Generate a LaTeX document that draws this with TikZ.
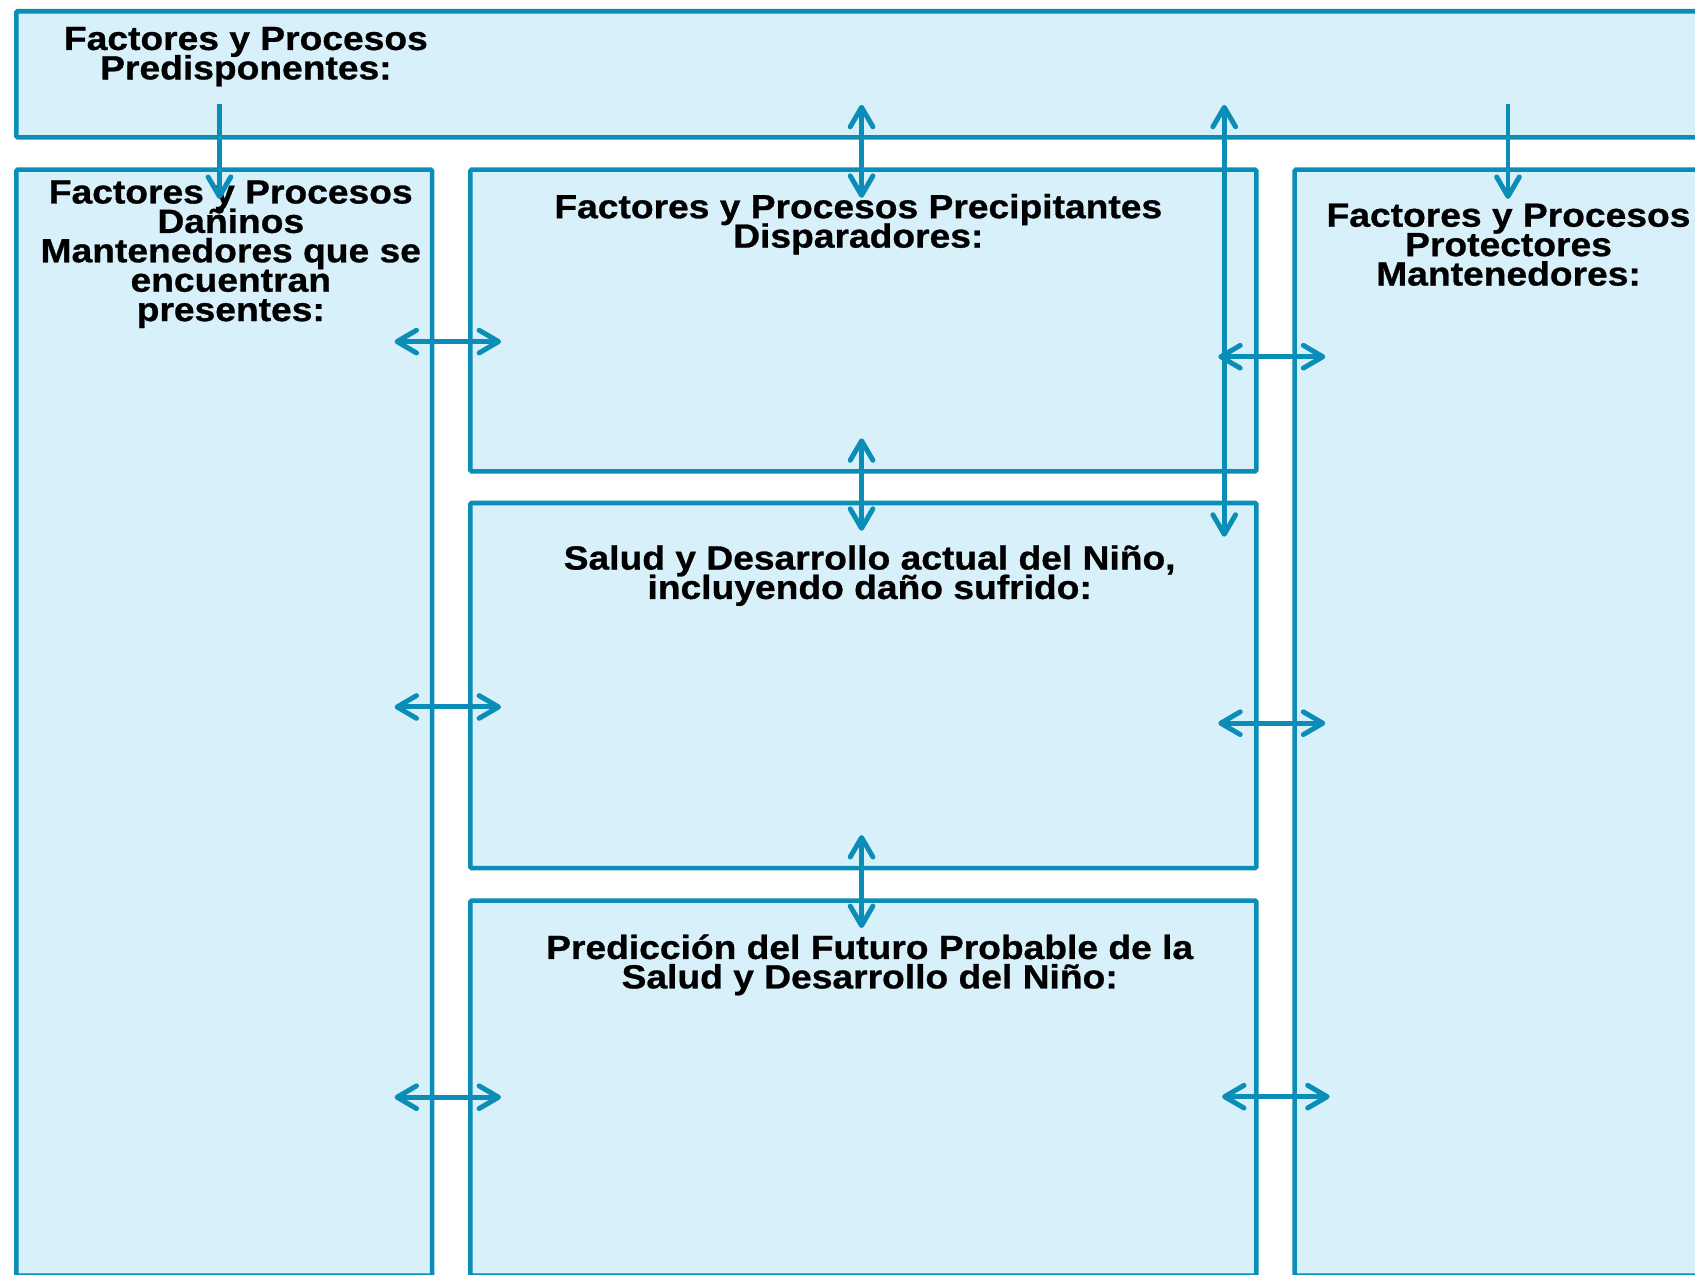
\documentclass[tikz,border=0pt]{standalone}
\usepackage{fontspec}
\newfontfamily\lblfont{Liberation Sans}[FakeStretch=1.11,FakeBold=0.8]
\newcommand\lblsetup{\lblfont\bfseries\fontsize{15.5pt}{13.6pt}\selectfont\lineskiplimit=-100pt\relax\lineskip=0pt\relax}
\usetikzlibrary{arrows.meta}
\definecolor{edge}{HTML}{0A8DB6}
\definecolor{panel}{HTML}{D7F0FA}
\tikzset{
  panelbox/.style={draw=edge, fill=panel, line width=2.1pt, rectangle, rounded corners=0.6pt, inner sep=0pt, anchor=north west},
  lbl/.style={inner sep=0pt, anchor=north, align=center, font=\lblsetup},
  link/.style={draw=edge, line width=2.3pt, line cap=butt},
  onehead/.style={link, -{Straight Barb[length=9pt,width=10.5pt,round]}},
  twohead/.style={link, {Straight Barb[length=9pt,width=10.5pt,round]}-{Straight Barb[length=9pt,width=10.5pt,round]}}
}
\begin{document}
\begin{tikzpicture}[x=0.5pt,y=-0.5pt]
\useasboundingbox (0,0) rectangle (1568,1179.47);
% panels
\node[panelbox, minimum width=793.25pt, minimum height=58.35pt] (top) at (13,8.3) {};
\node[panelbox, minimum width=192.35pt, minimum height=511.6pt] (left) at (13,154.8) {};
\node[panelbox, minimum width=363.55pt, minimum height=139.6pt] (mid1) at (433,154.8) {};
\node[panelbox, minimum width=363.55pt, minimum height=168.9pt] (mid2) at (433,463.2) {};
\node[panelbox, minimum width=363.55pt, minimum height=173.5pt] (mid3) at (433,831) {};
\node[panelbox, minimum width=202.2pt, minimum height=511.6pt] (right) at (1195.6,154.8) {};
% labels
\node[lbl] (ttop) at (227.5,24.5) {Factores y Procesos\\Predisponentes:};
\node[lbl] (tleft) at (213.5,166.5) {Factores y Procesos\\Dañinos\\Mantenedores que se\\encuentran\\presentes:};
\node[lbl] (tmid1) at (794,179) {Factores y Procesos Precipitantes\\Disparadores:};
\node[lbl] (tmid2) at (804.5,504) {Salud y Desarrollo actual del Niño,\\incluyendo daño sufrido:};
\node[lbl] (tmid3) at (804.5,864) {Predicción del Futuro Probable de la\\Salud y Desarrollo del Niño:};
\node[lbl] (tright) at (1395.5,188) {Factores y Procesos\\Protectores\\Mantenedores:};
% connector end points
\coordinate (a1s) at (203,96.5);   \coordinate (a1e) at (203,184);
\coordinate (a2s) at (797,97);     \coordinate (a2e) at (797,183);
\coordinate (a3s) at (1132.5,97);  \coordinate (a3e) at (1132.5,496.5);
\coordinate (a4s) at (1395,96.5);  \coordinate (a4e) at (1395,184);
\coordinate (a5s) at (365,316);    \coordinate (a5e) at (463.5,316);
\coordinate (a6s) at (1127,330);   \coordinate (a6e) at (1226,330);
\coordinate (a7s) at (797,405.5);  \coordinate (a7e) at (797,491);
\coordinate (a8s) at (365,654);    \coordinate (a8e) at (463.5,654);
\coordinate (a9s) at (1127,669);   \coordinate (a9e) at (1226,669);
\coordinate (a10s) at (797,772.5); \coordinate (a10e) at (797,858.5);
\coordinate (a11s) at (365,1015);  \coordinate (a11e) at (463.5,1015);
\coordinate (a12s) at (1130.5,1014.5); \coordinate (a12e) at (1230,1014.5);
% connectors
\draw[onehead] (a1s) -- (a1e);
\draw[twohead] (a2s) -- (a2e);
\draw[twohead] (a3s) -- (a3e);
\draw[onehead] (a4s) -- (a4e);
\draw[twohead] (a5s) -- (a5e);
\draw[twohead] (a6s) -- (a6e);
\draw[twohead] (a7s) -- (a7e);
\draw[twohead] (a8s) -- (a8e);
\draw[twohead] (a9s) -- (a9e);
\draw[twohead] (a10s) -- (a10e);
\draw[twohead] (a11s) -- (a11e);
\draw[twohead] (a12s) -- (a12e);
\end{tikzpicture}
\end{document}
